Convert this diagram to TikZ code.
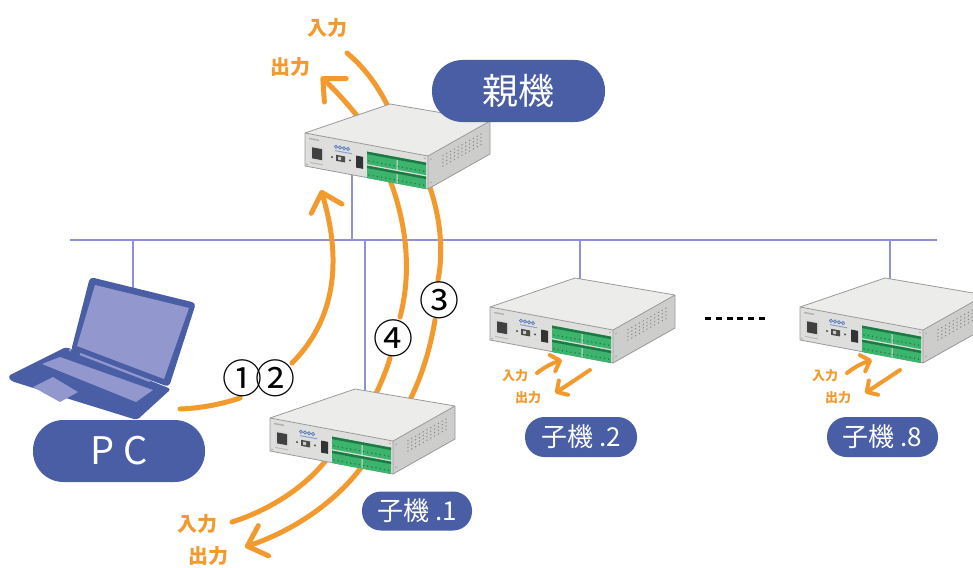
\documentclass[tikz,border=0pt]{standalone}
\usepackage{fontspec}
\setmainfont{Noto Sans CJK JP}
\usetikzlibrary{arrows.meta}
\definecolor{orangeA}{HTML}{F39A2E}
\definecolor{pillblue}{HTML}{4A5EA6}
\definecolor{screenc}{HTML}{9297CE}
\definecolor{busc}{HTML}{8E92D4}
\definecolor{topc}{HTML}{ECECEA}
\definecolor{frontc}{HTML}{DEDEDC}
\definecolor{sidec}{HTML}{CDCDCB}
\definecolor{edgec}{HTML}{9A9A9A}
\definecolor{termg}{HTML}{3DB46E}
\definecolor{termd}{HTML}{1E7A45}
\definecolor{logoc}{HTML}{5577BB}
\tikzset{
  bus/.style={draw=busc, line width=2.5pt},
  oline/.style={draw=orangeA, line width=5pt, line cap=round},
  oarrow/.style={oline, -{Straight Barb[round, length=17pt, width=32pt]}},
  sarrow/.style={draw=orangeA, line width=4pt, line cap=round, -{Straight Barb[round, length=8pt, width=17pt]}},
  olabel/.style={text=orangeA, font=\bfseries\fontsize{20}{20}\selectfont, inner sep=0pt},
  slabel/.style={text=orangeA, font=\bfseries\fontsize{13}{13}\selectfont, inner sep=0pt},
  num/.style={font=\fontsize{40}{40}\selectfont, inner sep=0pt},
  pill/.style={fill=pillblue, text=white, inner sep=0pt},
  unit/.pic={
    \fill[topc] (0,0) -- (123,23) -- (185,-12) -- (85,-29) -- cycle;
    \fill[frontc] (0,0) -- (123,23) -- (123,56) -- (0,33) -- cycle;
    \fill[sidec] (123,23) -- (185,-12) -- (185,21) -- (123,56) -- cycle;
    \draw[edgec, line width=0.8pt, line join=round]
      (0,0) -- (123,23) -- (185,-12) -- (85,-29) -- cycle
      (123,23) -- (123,56) (0,0) -- (0,33) -- (123,56) -- (185,21) -- (185,-12);
    \begin{scope}[yslant=-0.187]
      \fill[gray!60] (4,4) rectangle (14,5.5);
      \fill[gray!30] (5,11) rectangle (19,26);
      \fill[black!75] (7,13) rectangle (17,24);
      \fill[gray!55] (5,28) rectangle (18,29);
      \foreach \i in {0,1,2,3} \draw[logoc, line width=0.7pt] (31+\i*4,8) circle (1.6);
      \fill[logoc!70] (30,11.5) rectangle (47,12.5);
      \fill[black!70] (27,19) circle (1.1);
      \fill[black!70] (31,16) rectangle (40,22);
      \fill[gray!40] (33,17.5) rectangle (36,20.5);
      \fill[black!70] (45,19) circle (1.1);
      \fill[black!80] (51,13) rectangle (58,25);
      \foreach \r in {7,21} {
        \fill[termg] (62,\r) rectangle (91.5,\r+12.5);
        \fill[termg] (92.5,\r) rectangle (121,\r+12.5);
        \fill[termd] (62,\r) rectangle (121,\r+2.5);
        \foreach \k in {0,...,13} \fill[termd] (64+\k*4.2,\r+9) circle (0.8);
      }
      \fill[gray!70] (2,31) circle (0.9);
      \fill[gray!70] (120,3) circle (0.9);
    \end{scope}
    \begin{scope}[shift={(123,23)}, yslant=0.565]
      \foreach \i in {0,...,10} \foreach \j in {0,...,3}
        \fill[black!50] (15+\i*3.8, 8+\j*3.5) circle (0.7);
      \fill[gray!70] (3,5) circle (0.9);
      \fill[gray!70] (3,28) circle (0.9);
    \end{scope}
  }
}
\begin{document}
\begin{tikzpicture}[x=1pt,y=-1pt]
\clip (0,0) rectangle (973,567);
\fill[white] (0,0) rectangle (973,567);

% ---------- bus and drops
\coordinate (busL) at (70,240); \coordinate (busR) at (937,240);
\coordinate (b1) at (133,240); \coordinate (b2) at (352,240);
\coordinate (b3) at (365,240); \coordinate (b4) at (580,240);
\coordinate (b5) at (890,240);
\coordinate (pcTop) at (133,295); \coordinate (mBot) at (352,165);
\coordinate (c1Top) at (365,400); \coordinate (c2Top) at (580,290);
\coordinate (c8Top) at (890,290);
\draw[bus] (busL) -- (busR);
\draw[bus] (b1) -- (pcTop);
\draw[bus] (mBot) -- (b2);
\draw[bus] (b3) -- (c1Top);
\draw[bus] (b4) -- (c2Top);
\draw[bus] (b5) -- (c8Top);

% ---------- orange flows (behind the units)
\coordinate (mOut) at (362,122); \coordinate (outTip) at (321,77);
\coordinate (inStart) at (347,53); \coordinate (mIn) at (392,115);
\draw[oarrow] (mOut) .. controls (348,104) and (335,90) .. (outTip);
\draw[oline] (inStart) .. controls (365,68) and (380,88) .. (mIn);

\coordinate (pcOut) at (180,409); \coordinate (g1) at (240,398);
\coordinate (g2) at (292,363); \coordinate (mTip) at (321,190);
\draw[oline] (pcOut) .. controls (205,408) and (225,403) .. (g1);
\draw[oarrow] (g2) .. controls (330,325) and (345,270) .. (mTip);

\coordinate (m4) at (388,175); \coordinate (g4a) at (400,317);
\coordinate (g4b) at (390,358); \coordinate (c4) at (374,398);
\draw[oline] (m4) .. controls (410,230) and (410,280) .. (g4a);
\draw[oline] (g4b) .. controls (386,372) and (380,385) .. (c4);

\coordinate (m3) at (428,182); \coordinate (g3a) at (438,280);
\coordinate (g3b) at (435,320); \coordinate (c3) at (410,400);
\draw[oline] (m3) .. controls (442,220) and (443,255) .. (g3a);
\draw[oline] (g3b) .. controls (430,350) and (422,375) .. (c3);

\coordinate (in1s) at (232,522); \coordinate (c1in) at (332,452);
\coordinate (c1out) at (368,458); \coordinate (out1tip) at (245,547);
\draw[oline] (in1s) .. controls (270,510) and (310,485) .. (c1in);
\draw[oarrow] (c1out) .. controls (340,500) and (295,530) .. (out1tip);

\foreach \dx in {0,310} {
  \draw[sarrow] (537+\dx,373) .. controls (546+\dx,366) and (553+\dx,363) .. (562+\dx,360);
  \draw[sarrow] (590+\dx,370) .. controls (578+\dx,378) and (566+\dx,386) .. (555+\dx,393);
  \node[slabel] at (515+\dx,376) {入力};
  \node[slabel] at (528+\dx,398) {出力};
}

% ---------- laptop
\fill[pillblue, rounded corners=4pt] (90,277) -- (196,303) -- (169,387) -- (71,351) -- cycle;
\fill[screenc] (95,285) -- (189,308) -- (164,379) -- (77,346) -- cycle;
\fill[pillblue, rounded corners=3pt] (8,376) -- (66,347) -- (171,389) -- (137,420) -- (11,381) -- cycle;
\draw[screenc, line width=2.2pt] (80,354) -- (150,381);
\fill[screenc] (70,350) circle (1.5);
\fill[screenc] (42,364) -- (60,357) -- (153,390) -- (136,402) -- cycle;
\fill[screenc] (33,387) -- (53,377) -- (78,392) -- (60,402) -- cycle;

% ---------- units
\pic at (305,133) {unit};
\pic at (270,418) {unit};
\pic at (490,307) {unit};
\pic at (800,307) {unit};

% ---------- dots between units
\draw[black, line width=3pt, dash pattern=on 6pt off 4.8pt] (705,318) -- (766,318);

% ---------- pills
\node[pill, minimum width=173pt, minimum height=62pt, rounded corners=30.5pt,
      font=\fontsize{36}{36}\selectfont] (oya) at (518.5,91) {親機};
\node[pill, minimum width=172pt, minimum height=62pt, rounded corners=30.5pt,
      font=\fontsize{38}{38}\selectfont] (pc) at (119,451) {P C};
\node[pill, minimum width=110pt, minimum height=39pt, rounded corners=19pt,
      font=\fontsize{26}{26}\selectfont] (ko1) at (417,511) {子機 .1};
\node[pill, minimum width=112pt, minimum height=40pt, rounded corners=19.5pt,
      font=\fontsize{26}{26}\selectfont] (ko2) at (581,437) {子機 .2};
\node[pill, minimum width=111pt, minimum height=40pt, rounded corners=19.5pt,
      font=\fontsize{26}{26}\selectfont] (ko8) at (882.5,437) {子機 .8};

% ---------- labels
\node[olabel] (inT) at (327,28) {入力};
\node[olabel] (outT) at (290,67) {出力};
\node[olabel] (in1) at (197,524) {入力};
\node[olabel] (out1) at (208,556) {出力};
\node[num] (n1) at (242,378) {①};
\node[num] (n2) at (275,378) {②};
\node[num] (n4) at (393,338) {④};
\node[num] (n3) at (439,300) {③};
\end{tikzpicture}
\end{document}
